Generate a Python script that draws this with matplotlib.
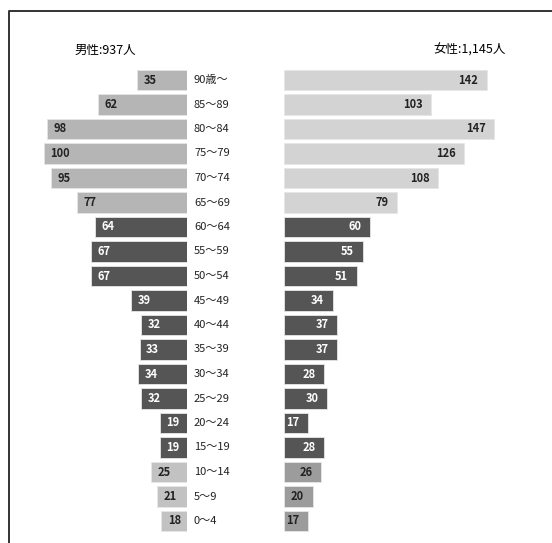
import matplotlib.pyplot as plt
from matplotlib.lines import Line2D
from matplotlib.transforms import blended_transform_factory

plt.rcParams['font.family'] = ['Noto Sans CJK JP', 'DejaVu Sans']

# --- Data (top row = oldest) ---
ages = ["90歳〜", "85〜89", "80〜84", "75〜79", "70〜74", "65〜69",
        "60〜64", "55〜59", "50〜54", "45〜49", "40〜44", "35〜39",
        "30〜34", "25〜29", "20〜24", "15〜19", "10〜14", "5〜9", "0〜4"]
male = [35, 62, 98, 100, 95, 77, 64, 67, 67, 39, 32, 33, 34, 32, 19, 19, 25, 21, 18]
female = [142, 103, 147, 126, 108, 79, 60, 55, 51, 34, 37, 37, 28, 30, 17, 28, 26, 20, 17]
group = ["old"] * 6 + ["work"] * 10 + ["young"] * 3
male_title = "男性:937人"
female_title = "女性:1,145人"

# --- Styles ---
male_col = {"old": "#b5b5b5", "work": "#555555", "young": "#c2c2c2"}
female_col = {"old": "#d3d3d3", "work": "#555555", "young": "#9c9c9c"}
txt_col = {"old": "#222222", "work": "white", "young": "#222222"}

W, H = 552, 543
fig = plt.figure(figsize=(W / 100, H / 100), dpi=100)
px = 1.43  # pixels per person

top, bot = 60, 540
y_top = -20 / 24.5
y_bot = (bot - 80) / 24.5

m_left, m_right = 20, 187
f_left, f_right = 284, 530
ax_m = fig.add_axes([m_left / W, 1 - bot / H, (m_right - m_left) / W, (bot - top) / H])
ax_f = fig.add_axes([f_left / W, 1 - bot / H, (f_right - f_left) / W, (bot - top) / H])

rows = list(range(len(ages)))
ax_m.barh(rows, male, height=0.82, color=[male_col[g] for g in group],
          edgecolor="#e6e6e6", linewidth=0.6)
ax_f.barh(rows, female, height=0.82, color=[female_col[g] for g in group],
          edgecolor="#e6e6e6", linewidth=0.6)

ax_m.set_xlim((m_right - m_left) / px, 0)
ax_f.set_xlim(0, (f_right - f_left) / px)
for ax in (ax_m, ax_f):
    ax.set_ylim(y_bot, y_top)
    ax.axis("off")

vfont = dict(fontsize=8, fontweight="bold", va="center")
for i, (m, f, g) in enumerate(zip(male, female, group)):
    ax_m.text(m - 4.5, i, str(m), ha="left", color=txt_col[g], **vfont)
    ax_f.text(f - 6, i, str(f), ha="right", color=txt_col[g], **vfont)

tr = blended_transform_factory(fig.transFigure, ax_m.transData)
for i, lab in enumerate(ages):
    ax_m.text(194 / W, i, lab, transform=tr, ha="left", va="center",
              fontsize=8, color="#222222")

fig.text(105 / W, 1 - 50 / H, male_title, ha="center", va="center", fontsize=9)
fig.text(470 / W, 1 - 50 / H, female_title, ha="center", va="center", fontsize=9)

# frame lines (top and left only visible)
fig.add_artist(Line2D([9 / W, 9 / W, 1], [0, 1 - 11 / H, 1 - 11 / H],
                      transform=fig.transFigure, color="#333333", lw=1.4))

fig.savefig("out.png", dpi=100)
